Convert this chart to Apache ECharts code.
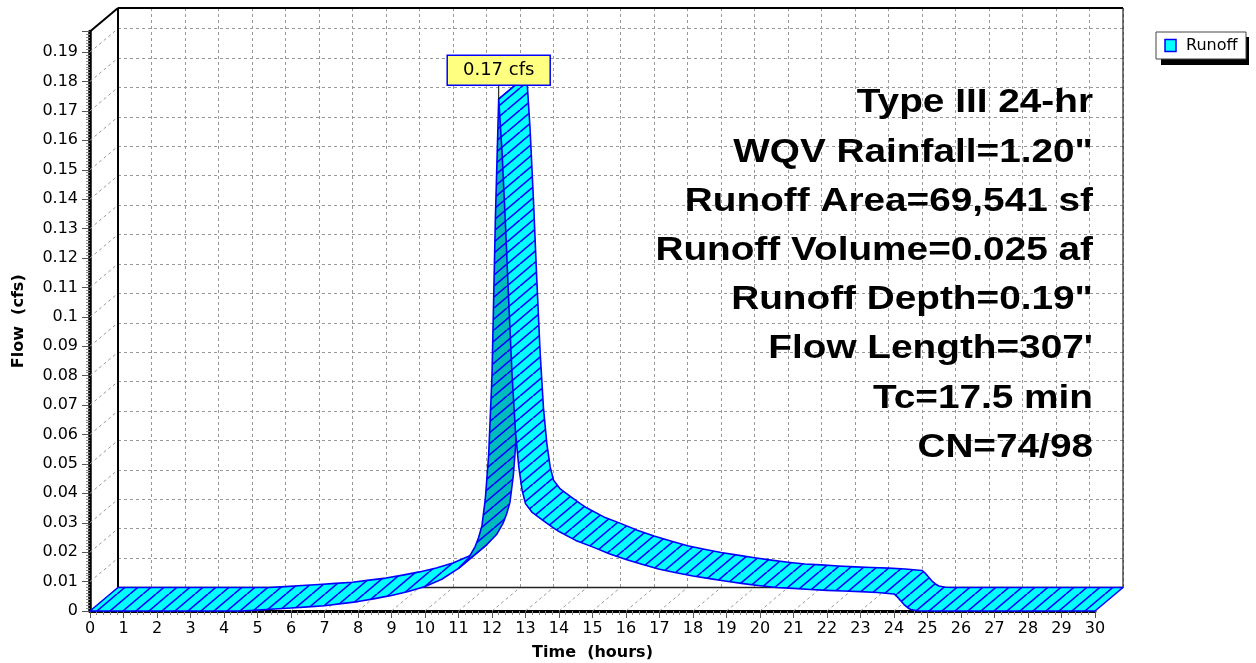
<!DOCTYPE html>
<html><head><meta charset="utf-8">
<script src="https://cdn.jsdelivr.net/npm/echarts@6/dist/echarts.min.js"></script>
<style>html,body{margin:0;padding:0;background:#fff}#c{width:1256px;height:663px}</style>
</head><body><div id="c"></div>
<script>
// ---------------- data ----------------
const TIME = [0, 4.5, 5, 5.5, 6, 6.5, 7, 7.5, 8, 8.5, 9, 9.5, 10, 10.5, 11, 11.3, 11.5, 11.6, 11.7, 11.8,
  11.9, 12, 12.1, 12.2, 12.3, 12.4, 12.5, 12.6, 12.7, 12.8, 12.9, 13, 13.2, 13.5, 13.8, 14, 14.5, 15, 15.5, 16,
  16.5, 17, 17.5, 18, 18.5, 19, 19.5, 20, 20.5, 21, 21.5, 22, 22.5, 23, 23.5, 24, 24.1, 24.2, 24.3, 24.4,
  24.5, 24.7, 25, 30];
const FLOW = [0, 0, 0.0003, 0.0007, 0.001, 0.0014, 0.0018, 0.0025, 0.0032, 0.0042, 0.0053, 0.0066, 0.0083, 0.0108, 0.0145, 0.018, 0.022, 0.025, 0.029, 0.038,
  0.053, 0.08, 0.133, 0.174, 0.156, 0.132, 0.105, 0.08, 0.061, 0.049, 0.041, 0.0365, 0.0335, 0.031, 0.0285, 0.027, 0.024, 0.0218, 0.0195, 0.0175,
  0.0158, 0.0142, 0.013, 0.0119, 0.011, 0.0101, 0.0093, 0.0086, 0.008, 0.0077, 0.0073, 0.007, 0.0068, 0.0066, 0.0063, 0.0058, 0.0048, 0.0035, 0.0022, 0.0012,
  0.0005, 0.0001, 0, 0];
const X_TICKS = [0,1,2,3,4,5,6,7,8,9,10,11,12,13,14,15,16,17,18,19,20,21,22,23,24,25,26,27,28,29,30];
const Y_TICKS = [0,0.01,0.02,0.03,0.04,0.05,0.06,0.07,0.08,0.09,0.1,0.11,0.12,0.13,0.14,0.15,0.16,0.17,0.18,0.19];
const Y_MAX = 0.197;
const SERIES_NAME = 'Runoff';
const UNIT = 'cfs';
const TITLE = 'Hydrograph';
const X_NAME = 'Time  (hours)';
const Y_NAME = 'Flow  (cfs)';
const STATS = ['Type III 24-hr', 'WQV Rainfall=1.20"', 'Runoff Area=69,541 sf', 'Runoff Volume=0.025 af',
  'Runoff Depth=0.19"', "Flow Length=307'", 'Tc=17.5 min', 'CN=74/98'];

// ---------------- layout / style ----------------
const FL = 90, FT = 31.5, FW = 1005, FH = 579.5, DX = 28, DY = -23.5;
const BLUE = '#0000FF';

function hatch(bg) {
  const c = document.createElement('canvas');
  c.width = 26; c.height = 22;
  const g = c.getContext('2d');
  g.fillStyle = bg; g.fillRect(0, 0, 26, 22);
  g.strokeStyle = BLUE; g.lineWidth = 1.6;
  for (let x0 = -26; x0 <= 26; x0 += 13) {
    g.beginPath(); g.moveTo(x0, 22); g.lineTo(x0 + 26, 0); g.stroke();
  }
  return { image: c, repeat: 'repeat' };
}
const TOP = hatch('#00FFFF');
const UNDER = hatch('#00BBBB');

function seg(a, b, color, w, dash) {
  return { type: 'line', shape: { x1: a[0], y1: a[1], x2: b[0], y2: b[1] },
    style: { stroke: color, lineWidth: w, lineDash: dash || null } };
}
const off = p => [p[0] + DX, p[1] + DY];

function renderFrame(params, api) {
  const ch = [];
  const xMax = X_TICKS[X_TICKS.length - 1];
  X_TICKS.forEach(h => { const p = api.coord([h, 0]); ch.push(seg(p, off(p), '#999', 1, [3, 3])); });
  Y_TICKS.forEach(v => { const p = api.coord([0, v]); ch.push(seg(p, off(p), '#999', 1, [3, 3])); });
  const o = api.coord([0, 0]), xm = api.coord([xMax, 0]), tp = api.coord([0, Y_MAX]), tr = api.coord([xMax, Y_MAX]);
  ch.push(seg(off(tp), off(tr), '#000', 2));
  ch.push(seg(off(o), off(tp), '#000', 2));
  ch.push(seg(off(xm), off(tr), '#222', 1.2));
  ch.push(seg(off(o), off(xm), '#222', 1.5));
  ch.push(seg(tp, off(tp), '#000', 2));
  return { type: 'group', children: ch };
}

function renderRibbon(params, api) {
  const F = TIME.map((t, i) => api.coord([t, FLOW[i]]));
  const B = F.map(off);
  const ch = [];
  const side = i => {
    const dx = F[i + 1][0] - F[i][0], dy = F[i + 1][1] - F[i][1];
    return (dx * DY - dy * DX) > 0 ? 1 : 0;
  };
  let s = 0;
  while (s < F.length - 1) {
    const o = side(s); let e = s;
    while (e + 1 < F.length - 1 && side(e + 1) === o) e++;
    const pts = F.slice(s, e + 2).concat(B.slice(s, e + 2).reverse());
    ch.push({ type: 'polygon', shape: { points: pts },
      style: { fill: o ? UNDER : TOP, stroke: BLUE, lineWidth: 1.6, lineJoin: 'round' } });
    s = e + 1;
  }
  let im = 0;
  FLOW.forEach((v, i) => { if (v > FLOW[im]) im = i; });
  const P = F[im];
  ch.push(seg(P, [P[0], P[1] - 14], '#000', 1));
  ch.push({ type: 'rect', shape: { x: P[0] - 51.5, y: P[1] - 44, width: 103, height: 30 },
    style: { fill: '#FFFF80', stroke: BLUE, lineWidth: 1.5 } });
  ch.push({ type: 'text', x: P[0], y: P[1] - 29,
    style: { text: FLOW[im].toFixed(2) + ' ' + UNIT, align: 'center', verticalAlign: 'middle',
      font: '18px "DejaVu Sans"', fill: '#000' } });
  return { type: 'group', children: ch };
}

const yFmt = v => Y_TICKS.some(t => Math.abs(t - v) < 1e-9) ? String(+v.toFixed(2)) : '';

const chart = echarts.init(document.getElementById('c'), null, { renderer: 'canvas' });
const option = {
  animation: false,
  backgroundColor: '#fff',
  grid: [
    { left: FL + DX, top: FT + DY, width: FW, height: FH, show: false, outerBoundsMode: 'none' },
    { left: FL, top: FT, width: FW, height: FH, show: false, outerBoundsMode: 'none' }
  ],
  xAxis: [
    { gridIndex: 0, type: 'value', min: 0, max: 30, interval: 1,
      axisLine: { show: false }, axisTick: { show: false }, axisLabel: { show: false },
      splitLine: { show: true, lineStyle: { color: '#999', type: [3, 3], width: 1 } } },
    { gridIndex: 1, type: 'value', min: 0, max: 30, interval: 1,
      name: X_NAME, nameLocation: 'middle', nameGap: 34,
      nameTextStyle: { color: '#000', fontSize: 16, fontWeight: 'bold', fontFamily: 'DejaVu Sans' },
      axisLine: { lineStyle: { color: '#000', width: 3 } },
      axisTick: { length: 7, lineStyle: { color: '#555', width: 1 } },
      minorTick: { show: true, splitNumber: 5, length: 4, lineStyle: { color: '#888', width: 1 } },
      axisLabel: { margin: 10, color: '#000', fontSize: 16, fontFamily: 'DejaVu Sans' },
      splitLine: { show: false } }
  ],
  yAxis: [
    { gridIndex: 0, type: 'value', min: 0, max: Y_MAX, interval: 0.01,
      axisLine: { show: false }, axisTick: { show: false }, axisLabel: { show: false },
      splitLine: { show: true, lineStyle: { color: '#999', type: [3, 3], width: 1 } } },
    { gridIndex: 1, type: 'value', min: 0, max: Y_MAX, interval: 0.01,
      name: Y_NAME, nameLocation: 'middle', nameGap: 63,
      nameTextStyle: { color: '#000', fontSize: 16, fontWeight: 'bold', fontFamily: 'DejaVu Sans' },
      axisLine: { lineStyle: { color: '#000', width: 3.5 } },
      axisTick: { length: 8, lineStyle: { color: '#555', width: 1 } },
      minorTick: { show: true, splitNumber: 10, length: 4, lineStyle: { color: '#888', width: 1 } },
      axisLabel: { margin: 12, color: '#000', fontSize: 16, fontFamily: 'DejaVu Sans', formatter: yFmt },
      splitLine: { show: false } }
  ],
  series: [
    { type: 'custom', name: 'frame', xAxisIndex: 1, yAxisIndex: 1, data: [[0, 0]], renderItem: renderFrame, z: 1, silent: true },
    { type: 'custom', name: SERIES_NAME, xAxisIndex: 1, yAxisIndex: 1, data: [[0, 0]], renderItem: renderRibbon, z: 3, clip: false }
  ],
  graphic: [
    { type: 'text', x: 564, y: 0.5, z: 10,
      style: { text: TITLE, align: 'center', verticalAlign: 'bottom', font: 'bold 23px "Liberation Sans"', fill: BLUE } },
    ...STATS.map((s, i) => ({ type: 'text', x: 1093, y: 103 + 49.2 * i, z: 10, scaleX: 1.14,
      style: { text: s, align: 'right', verticalAlign: 'middle', font: 'bold 34px "Liberation Sans"', fill: '#000' } })),
    { type: 'rect', z: 10, shape: { x: 1161, y: 37, width: 88, height: 28 }, style: { fill: '#000' } },
    { type: 'rect', z: 11, shape: { x: 1156, y: 32, width: 90, height: 27 }, style: { fill: '#fff', stroke: '#444', lineWidth: 1 } },
    { type: 'rect', z: 12, shape: { x: 1165, y: 39.5, width: 11, height: 12 }, style: { fill: '#00FFFF', stroke: BLUE, lineWidth: 1.5 } },
    { type: 'text', z: 12, x: 1186, y: 46, style: { text: SERIES_NAME, verticalAlign: 'middle', font: '16px "DejaVu Sans"', fill: '#000' } }
  ]
};
chart.setOption(option);
</script></body></html>
